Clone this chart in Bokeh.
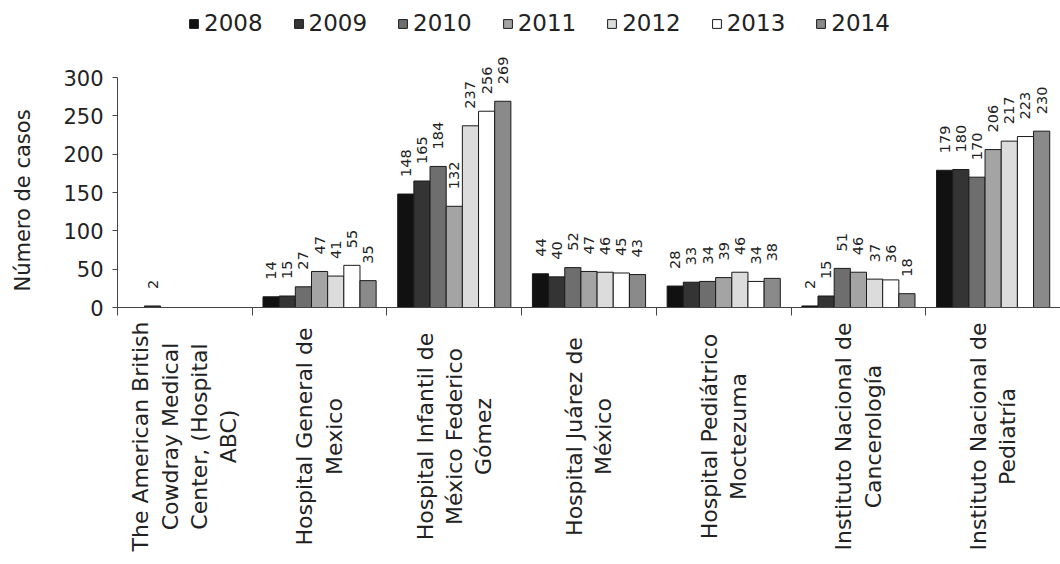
import math
from bokeh.plotting import figure
from bokeh.models import ColumnDataSource, Range1d, FixedTicker
from bokeh.embed import file_html
from bokeh.resources import INLINE
from bokeh.core.properties import value

hospitals = [
    "The American British\nCowdray Medical\nCenter, (Hospital\nABC)",
    "Hospital General de\nMexico",
    "Hospital Infantil de\nMéxico Federico\nGómez",
    "Hospital Juárez de\nMéxico",
    "Hospital Pediátrico\nMoctezuma",
    "Instituto Nacional de\nCancerología",
    "Instituto Nacional de\nPediatría",
]
years = ["2008", "2009", "2010", "2011", "2012", "2013", "2014"]
v2008 = [None, 14, 148, 44, 28, 2, 179]
v2009 = [2, 15, 165, 40, 33, 15, 180]
v2010 = [None, 27, 184, 52, 34, 51, 170]
v2011 = [None, 47, 132, 47, 39, 46, 206]
v2012 = [None, 41, 237, 46, 46, 37, 217]
v2013 = [None, 55, 256, 45, 34, 36, 223]
v2014 = [None, 35, 269, 43, 38, 18, 230]
series = [v2008, v2009, v2010, v2011, v2012, v2013, v2014]
colors = ["#111111", "#343434", "#6e6e6e", "#a4a4a4", "#dcdcdc", "#ffffff", "#8a8a8a"]
yticks = [0, 50, 100, 150, 200, 250, 300]
y_title = "Número de casos"

FONT = "DejaVu Sans"
TXT = "#222222"
BAR_W = 0.12

# canvas geometry: plot area 117..1060 px wide, value 0 at 307 px, 300 at 77 px
W, H = 1060, 564
X0, Y0 = 117, 307
px_x = (W - X0) / 7.0
px_y = (Y0 - 77) / 300.0

p = figure(width=W, height=H,
           x_range=Range1d(-X0 / px_x, 7), y_range=Range1d(-(H - Y0) / px_y, Y0 / px_y),
           output_backend="svg", toolbar_location=None,
           min_border_left=0, min_border_right=0, min_border_top=0,
           min_border_bottom=0)
p.outline_line_color = None
p.xgrid.grid_line_color = None
p.ygrid.grid_line_color = None
p.background_fill_color = "white"
p.border_fill_color = "white"

lab_x, lab_y, lab_t = [], [], []
for j, (yr, vals, col) in enumerate(zip(years, series, colors)):
    xs, tops = [], []
    for i, v in enumerate(vals):
        if v is None:
            continue
        xx = i + 0.5 + (j - 3) * BAR_W
        xs.append(xx)
        tops.append(v)
        lab_x.append(xx)
        lab_y.append(v)
        lab_t.append(str(v))
    src = ColumnDataSource(dict(x=xs, top=tops))
    p.vbar(x="x", top="top", bottom=0, width=BAR_W, source=src,
           fill_color=col, line_color="#1a1a1a", line_width=1, legend_label=yr)

lsrc = ColumnDataSource(dict(x=lab_x, y=lab_y, t=lab_t))
p.text(x="x", y="y", text="t", source=lsrc, angle=math.pi / 2,
       text_align="left", text_baseline="middle", y_offset=-17,
       text_font=value(FONT), text_font_size="14.5px", text_color=TXT)

# category labels (rotated, centred lines) under the axis
csrc = ColumnDataSource(dict(x=[i + 0.5 for i in range(len(hospitals))],
                             y=[0] * len(hospitals), t=hospitals))
p.text(x="x", y="y", text="t", source=csrc, angle=math.pi / 2,
       text_align="center", text_baseline="middle", y_offset=129,
       text_font=value(FONT), text_font_size="22px", text_color=TXT,
       text_line_height=1.17)

# y title
tsrc = ColumnDataSource(dict(x=[0], y=[150], t=[y_title]))
p.text(x="x", y="y", text="t", source=tsrc, angle=math.pi / 2,
       text_align="center", text_baseline="middle", x_offset=-95, y_offset=8,
       text_font=value(FONT), text_font_size="21px", text_color=TXT)

# x axis at value 0: boundary ticks only
xa = p.xaxis[0]
xa.fixed_location = 0
xa.bounds = (0, 7)
xa.ticker = FixedTicker(ticks=[], minor_ticks=list(range(len(hospitals) + 1)))
xa.major_tick_line_color = None
xa.major_label_text_font_size = "0px"
xa.minor_tick_line_color = "#444444"
xa.minor_tick_in = 0
xa.minor_tick_out = 8
xa.axis_line_color = "#444444"

# y axis at x = 0
ya = p.yaxis[0]
ya.fixed_location = 0
ya.ticker = FixedTicker(ticks=yticks)
ya.bounds = (0, 300)
ya.major_label_text_font = FONT
ya.major_label_text_font_size = "21px"
ya.major_label_text_color = TXT
ya.major_label_standoff = 9
ya.major_tick_in = 0
ya.major_tick_out = 5
ya.major_tick_line_color = "#444444"
ya.minor_tick_line_color = None
ya.axis_line_color = "#444444"

lg = p.legend[0]
lg.orientation = "horizontal"
lg.location = (188, H - 36)
lg.glyph_width = 11
lg.glyph_height = 11
lg.label_standoff = 5
lg.spacing = 30
lg.padding = 0
lg.margin = 0
lg.border_line_color = None
lg.background_fill_alpha = 0
lg.label_text_font = FONT
lg.label_text_font_size = "23px"
lg.label_text_color = TXT

open("out.html", "w").write(file_html(p, INLINE))
